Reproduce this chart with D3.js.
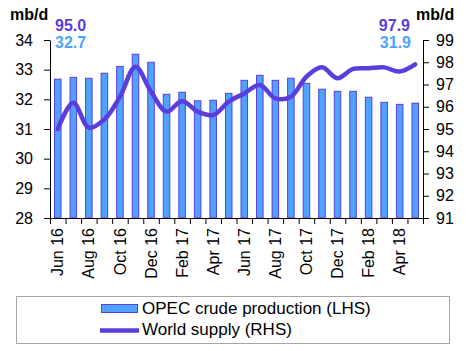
<!DOCTYPE html>
<html>
<head>
<meta charset="utf-8">
<script src="https://cdn.jsdelivr.net/npm/d3@7"></script>
<style>
  body { margin: 0; background: #fff; }
  svg { font-family: "Liberation Sans", Arial, sans-serif; }
</style>
</head>
<body>
<div id="chart"></div>
<script>
// months Jun 16 .. May 18
const months = ["Jun 16", "Jul 16", "Aug 16", "Sep 16", "Oct 16", "Nov 16", "Dec 16",
    "Jan 17", "Feb 17", "Mar 17", "Apr 17", "May 17", "Jun 17", "Jul 17", "Aug 17", "Sep 17",
    "Oct 17", "Nov 17", "Dec 17", "Jan 18", "Feb 18", "Mar 18", "Apr 18", "May 18"];

// OPEC crude production, mb/d (LHS)
const opec = [32.68, 32.74, 32.71, 32.88, 33.11, 33.52, 33.25, 32.17, 32.24, 31.95, 31.97, 32.2,
    32.64, 32.81, 32.64, 32.71, 32.54, 32.34, 32.27, 32.27, 32.07, 31.90, 31.83, 31.87];

// World supply, mb/d (RHS)
const world = [95.0, 96.18, 95.06, 95.43, 96.45, 97.8, 96.68, 95.78, 96.26, 95.78, 95.63, 96.23,
    96.6, 96.98, 96.38, 96.45, 97.35, 97.77, 97.28, 97.7, 97.73, 97.77, 97.58, 97.9];

const leftTicks = [28, 29, 30, 31, 32, 33, 34];
const rightTicks = [91, 92, 93, 94, 95, 96, 97, 98, 99];

const barBlue = "#4da3ff";
const purple = "#5b3cdc";

const width = 475, height = 351;
const margin = { top: 40, right: 52, bottom: 133, left: 50 };
const inner_w = width - margin.left - margin.right,
    inner_h = height - margin.top - margin.bottom;

const svg = d3.select("#chart").append("svg")
    .attr("width", width)
    .attr("height", height);

const g = svg.append("g")
    .attr("transform", `translate(${margin.left}, ${margin.top})`);

const x = d3.scaleBand().domain(months).range([0, inner_w]);
const xIdx = d3.scaleLinear().domain([0, months.length]).range([0, inner_w]);
const yL = d3.scaleLinear().domain([28, 34]).range([inner_h, 0]);
const yR = d3.scaleLinear().domain([91, 99]).range([inner_h, 0]);

// bars
const barW = x.bandwidth() * 0.42;
g.append("g").selectAll("rect")
    .data(opec)
    .join("rect")
    .attr("x", (d, i) => x(months[i]) + (x.bandwidth() - barW) / 2)
    .attr("y", d => yL(d))
    .attr("width", barW)
    .attr("height", d => yL(28) - yL(d))
    .attr("fill", barBlue)
    .attr("stroke", purple)
    .attr("stroke-width", 1);

// world supply line
g.append("path")
    .datum(world)
    .attr("d", d3.line()
        .curve(d3.curveCatmullRom.alpha(0.5))
        .x((d, i) => x(months[i]) + x.bandwidth() / 2)
        .y(d => yR(d)))
    .attr("fill", "none")
    .attr("stroke", purple)
    .attr("stroke-width", 4.5)
    .attr("stroke-linecap", "round");

// axes
const leftAxis = g.append("g")
    .call(d3.axisLeft(yL).tickValues(leftTicks).tickFormat(d3.format("d"))
        .tickSize(6).tickSizeOuter(0).tickPadding(11));
const rightAxis = g.append("g")
    .attr("transform", `translate(${inner_w},0)`)
    .call(d3.axisRight(yR).tickValues(rightTicks).tickFormat(d3.format("d"))
        .tickSize(6).tickSizeOuter(0).tickPadding(7));

const xTicks = g.append("g")
    .attr("transform", `translate(0,${inner_h})`)
    .call(d3.axisBottom(xIdx).tickValues(d3.range(0, months.length + 1)).tickSize(6).tickSizeOuter(0).tickFormat(""));

const xLabels = g.append("g")
    .attr("transform", `translate(0,${inner_h})`)
    .call(d3.axisBottom(x).tickValues(months.filter((m, i) => i % 2 == 0 && i < 23)).tickSize(0));
xLabels.select(".domain").remove();
xLabels.selectAll("text")
    .attr("transform", "rotate(-90)")
    .attr("x", -10)
    .attr("y", 0)
    .attr("dy", "0.35em")
    .attr("text-anchor", "end");

[leftAxis, rightAxis, xLabels].forEach(a => a.selectAll("text")
    .style("font-size", "16px")
    .attr("fill", "#000"));
[leftAxis, rightAxis, xTicks].forEach(a => a.selectAll("line, path").attr("stroke", "#000"));

// unit labels
svg.append("text").attr("x", 10).attr("y", 20)
    .style("font-size", "16px").style("font-weight", "bold").text("mb/d");
svg.append("text").attr("x", 416).attr("y", 20)
    .style("font-size", "16px").style("font-weight", "bold").text("mb/d");

// start / end values
svg.append("text").attr("x", 55).attr("y", 31)
    .style("font-size", "16px").style("font-weight", "bold").attr("fill", purple).text(world[0].toFixed(1));
svg.append("text").attr("x", 55).attr("y", 48)
    .style("font-size", "16px").style("font-weight", "bold").attr("fill", barBlue).text(opec[0].toFixed(1));
svg.append("text").attr("x", 410).attr("y", 31).attr("text-anchor", "end")
    .style("font-size", "16px").style("font-weight", "bold").attr("fill", purple).text(world[world.length - 1].toFixed(1));
svg.append("text").attr("x", 411).attr("y", 48).attr("text-anchor", "end")
    .style("font-size", "16px").style("font-weight", "bold").attr("fill", barBlue).text(opec[opec.length - 1].toFixed(1));

// legend
const legend = svg.append("g");
legend.append("rect")
    .attr("x", 16.5).attr("y", 296.5).attr("width", 433).attr("height", 47)
    .attr("fill", "none").attr("stroke", "#a6a6a6");
legend.append("rect")
    .attr("x", 101.5).attr("y", 304.5).attr("width", 36).attr("height", 8)
    .attr("fill", barBlue).attr("stroke", purple);
legend.append("text").attr("x", 142).attr("y", 314)
    .style("font-size", "17px").text("OPEC crude production (LHS)");
legend.append("line")
    .attr("x1", 100).attr("x2", 139).attr("y1", 330.5).attr("y2", 330.5)
    .attr("stroke", purple).attr("stroke-width", 4.5);
legend.append("text").attr("x", 142).attr("y", 335)
    .style("font-size", "17px").text("World supply (RHS)");
</script>
</body>
</html>
